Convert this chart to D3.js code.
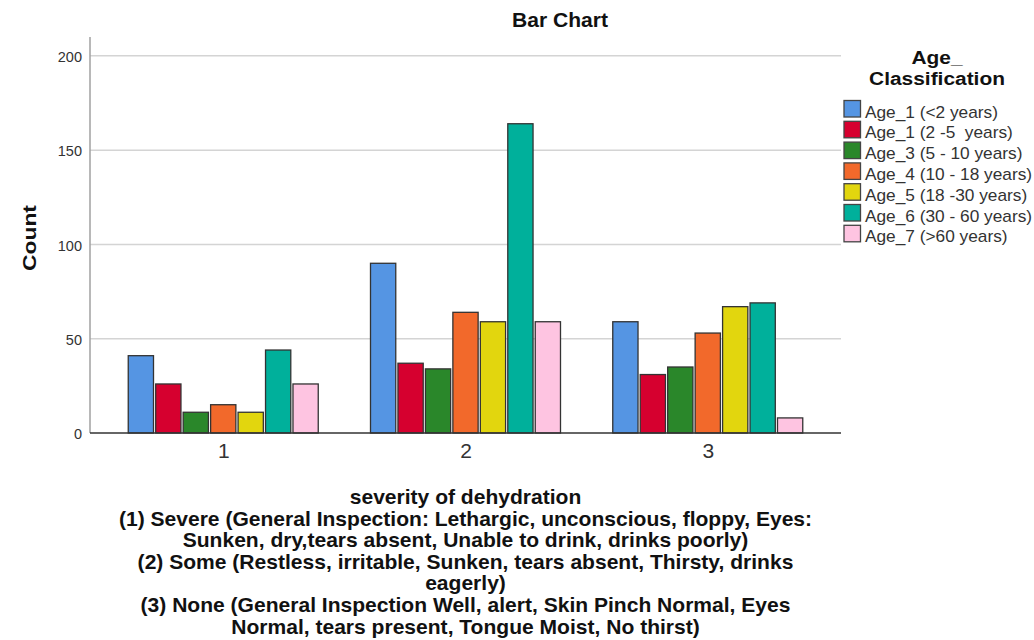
<!DOCTYPE html>
<html>
<head>
<meta charset="utf-8">
<script src="https://cdnjs.cloudflare.com/ajax/libs/d3/7.8.5/d3.min.js"></script>
<style>
  body { margin: 0; background: #fff; }
  svg { font-family: "Liberation Sans", Arial, sans-serif; }
  text { white-space: pre; }
</style>
</head>
<body>
<svg id="chart" width="1034" height="640"></svg>
<script>
// categories on x (severity of dehydration)
const categories = ["1", "2", "3"];
// age groups (legend)
const ageGroups = [
  "Age_1 (<2 years)",
  "Age_1 (2 -5  years)",
  "Age_3 (5 - 10 years)",
  "Age_4 (10 - 18 years)",
  "Age_5 (18 -30 years)",
  "Age_6 (30 - 60 years)",
  "Age_7 (>60 years)"
];
const ageColors = ["#5595e3", "#d6002f", "#2a872a", "#f2692b", "#e2d60e", "#00b09b", "#fec4e1"];
// counts per category, one entry per age group
const counts1 = [41, 26, 11, 15, 11, 44, 26];
const counts2 = [90, 37, 34, 64, 59, 164, 59];
const counts3 = [59, 31, 35, 53, 67, 69, 8];
const yTicks = [0, 50, 100, 150, 200];
const xTitleLines = [
  "severity of dehydration",
  "(1) Severe (General Inspection: Lethargic, unconscious, floppy, Eyes:",
  "Sunken, dry,tears absent, Unable to drink, drinks poorly)",
  "(2) Some (Restless, irritable, Sunken, tears absent, Thirsty, drinks",
  "eagerly)",
  "(3) None (General Inspection Well, alert, Skin Pinch Normal, Eyes",
  "Normal, tears present, Tongue Moist, No thirst)"
];

const allCounts = [counts1, counts2, counts3];
const svg = d3.select("#chart");
const margin = {top: 37, left: 90, right: 193, bottom: 207};
const W = +svg.attr("width"), H = +svg.attr("height");
const plotR = W - margin.right;
const plotB = H - margin.bottom;
const stretch = 1.08; // text in the original is a little wide

const y = d3.scaleLinear().domain([0, 210]).range([plotB, margin.top]);
const x = d3.scalePoint().domain(categories).range([margin.left, plotR]).padding(0.55);
const xs = d3.scaleBand().domain(d3.range(ageGroups.length)).range([-95, 95]).paddingInner(0.08);

// gridlines
svg.append("g")
  .selectAll("line")
  .data(yTicks.filter(d => d > 0))
  .join("line")
  .attr("x1", margin.left).attr("x2", plotR)
  .attr("y1", d => y(d)).attr("y2", d => y(d))
  .attr("stroke", "#d4d4d4").attr("stroke-width", 1.5);

// y axis
const yAxis = svg.append("g")
  .attr("transform", `translate(${margin.left},0)`)
  .call(d3.axisLeft(y).tickValues(yTicks).tickSize(0).tickPadding(8));
yAxis.select(".domain").attr("stroke", "#a0a0a0").attr("stroke-width", 1.5)
  .attr("d", `M0,${margin.top}V${plotB}`);
yAxis.selectAll("text").attr("font-size", 14.5).attr("fill", "#333").attr("dy", "0.4em")
  .attr("font-family", "Liberation Sans, Arial, sans-serif");

// bars
const groups = svg.append("g")
  .selectAll("g")
  .data(categories)
  .join("g")
  .attr("transform", d => `translate(${x(d)},0)`);

groups.selectAll("rect")
  .data((c, i) => allCounts[i].map((v, k) => ({k, v})))
  .join("rect")
  .attr("x", d => xs(d.k))
  .attr("width", xs.bandwidth())
  .attr("y", d => y(d.v))
  .attr("height", d => plotB - y(d.v))
  .attr("fill", d => ageColors[d.k])
  .attr("stroke", "#333")
  .attr("stroke-width", 1.3);

// x axis
const xAxis = svg.append("g")
  .attr("transform", `translate(0,${plotB})`)
  .call(d3.axisBottom(x).tickSize(0).tickPadding(12));
xAxis.select(".domain").attr("stroke", "#333").attr("stroke-width", 1.5)
  .attr("d", `M${margin.left},0H${plotR}`);
xAxis.selectAll("text").attr("font-size", 21).attr("fill", "#333").attr("dy", "0.62em")
  .attr("font-family", "Liberation Sans, Arial, sans-serif");

// title
svg.append("text")
  .attr("transform", `translate(560,27) scale(${stretch},1)`)
  .attr("text-anchor", "middle")
  .attr("font-size", 19.5).attr("font-weight", "bold").attr("fill", "#111")
  .text("Bar Chart");

// y title
svg.append("text")
  .attr("transform", `translate(35.5,238) rotate(-90) scale(1.2,1)`)
  .attr("text-anchor", "middle")
  .attr("font-size", 19).attr("font-weight", "bold").attr("fill", "#111")
  .text("Count");

// x title
svg.append("g")
  .selectAll("text")
  .data(xTitleLines)
  .join("text")
  .attr("transform", (d, i) => `translate(${(margin.left + plotR) / 2},${504 + i * 21.6}) scale(${stretch},1)`)
  .attr("text-anchor", "middle")
  .attr("font-size", 19.5).attr("font-weight", "bold").attr("fill", "#111")
  .text(d => d);

// legend
const legend = svg.append("g");
legend.selectAll("text.title")
  .data(["Age_", "Classification"])
  .join("text")
  .attr("class", "title")
  .attr("transform", (d, i) => `translate(937,${63.5 + i * 21.5}) scale(1.1,1)`)
  .attr("text-anchor", "middle")
  .attr("font-size", 19).attr("font-weight", "bold").attr("fill", "#111")
  .text(d => d);

const items = legend.selectAll("g.item")
  .data(ageGroups)
  .join("g")
  .attr("class", "item")
  .attr("transform", (d, i) => `translate(844,${100.5 + i * 20.8})`);
items.append("rect")
  .attr("width", 16.5).attr("height", 16.5)
  .attr("fill", (d, i) => ageColors[i])
  .attr("stroke", "#444").attr("stroke-width", 1.3);
items.append("text")
  .attr("transform", `translate(21,17) scale(${stretch},1)`)
  .attr("font-size", 16).attr("fill", "#333")
  .text(d => d);
</script>
</body>
</html>
